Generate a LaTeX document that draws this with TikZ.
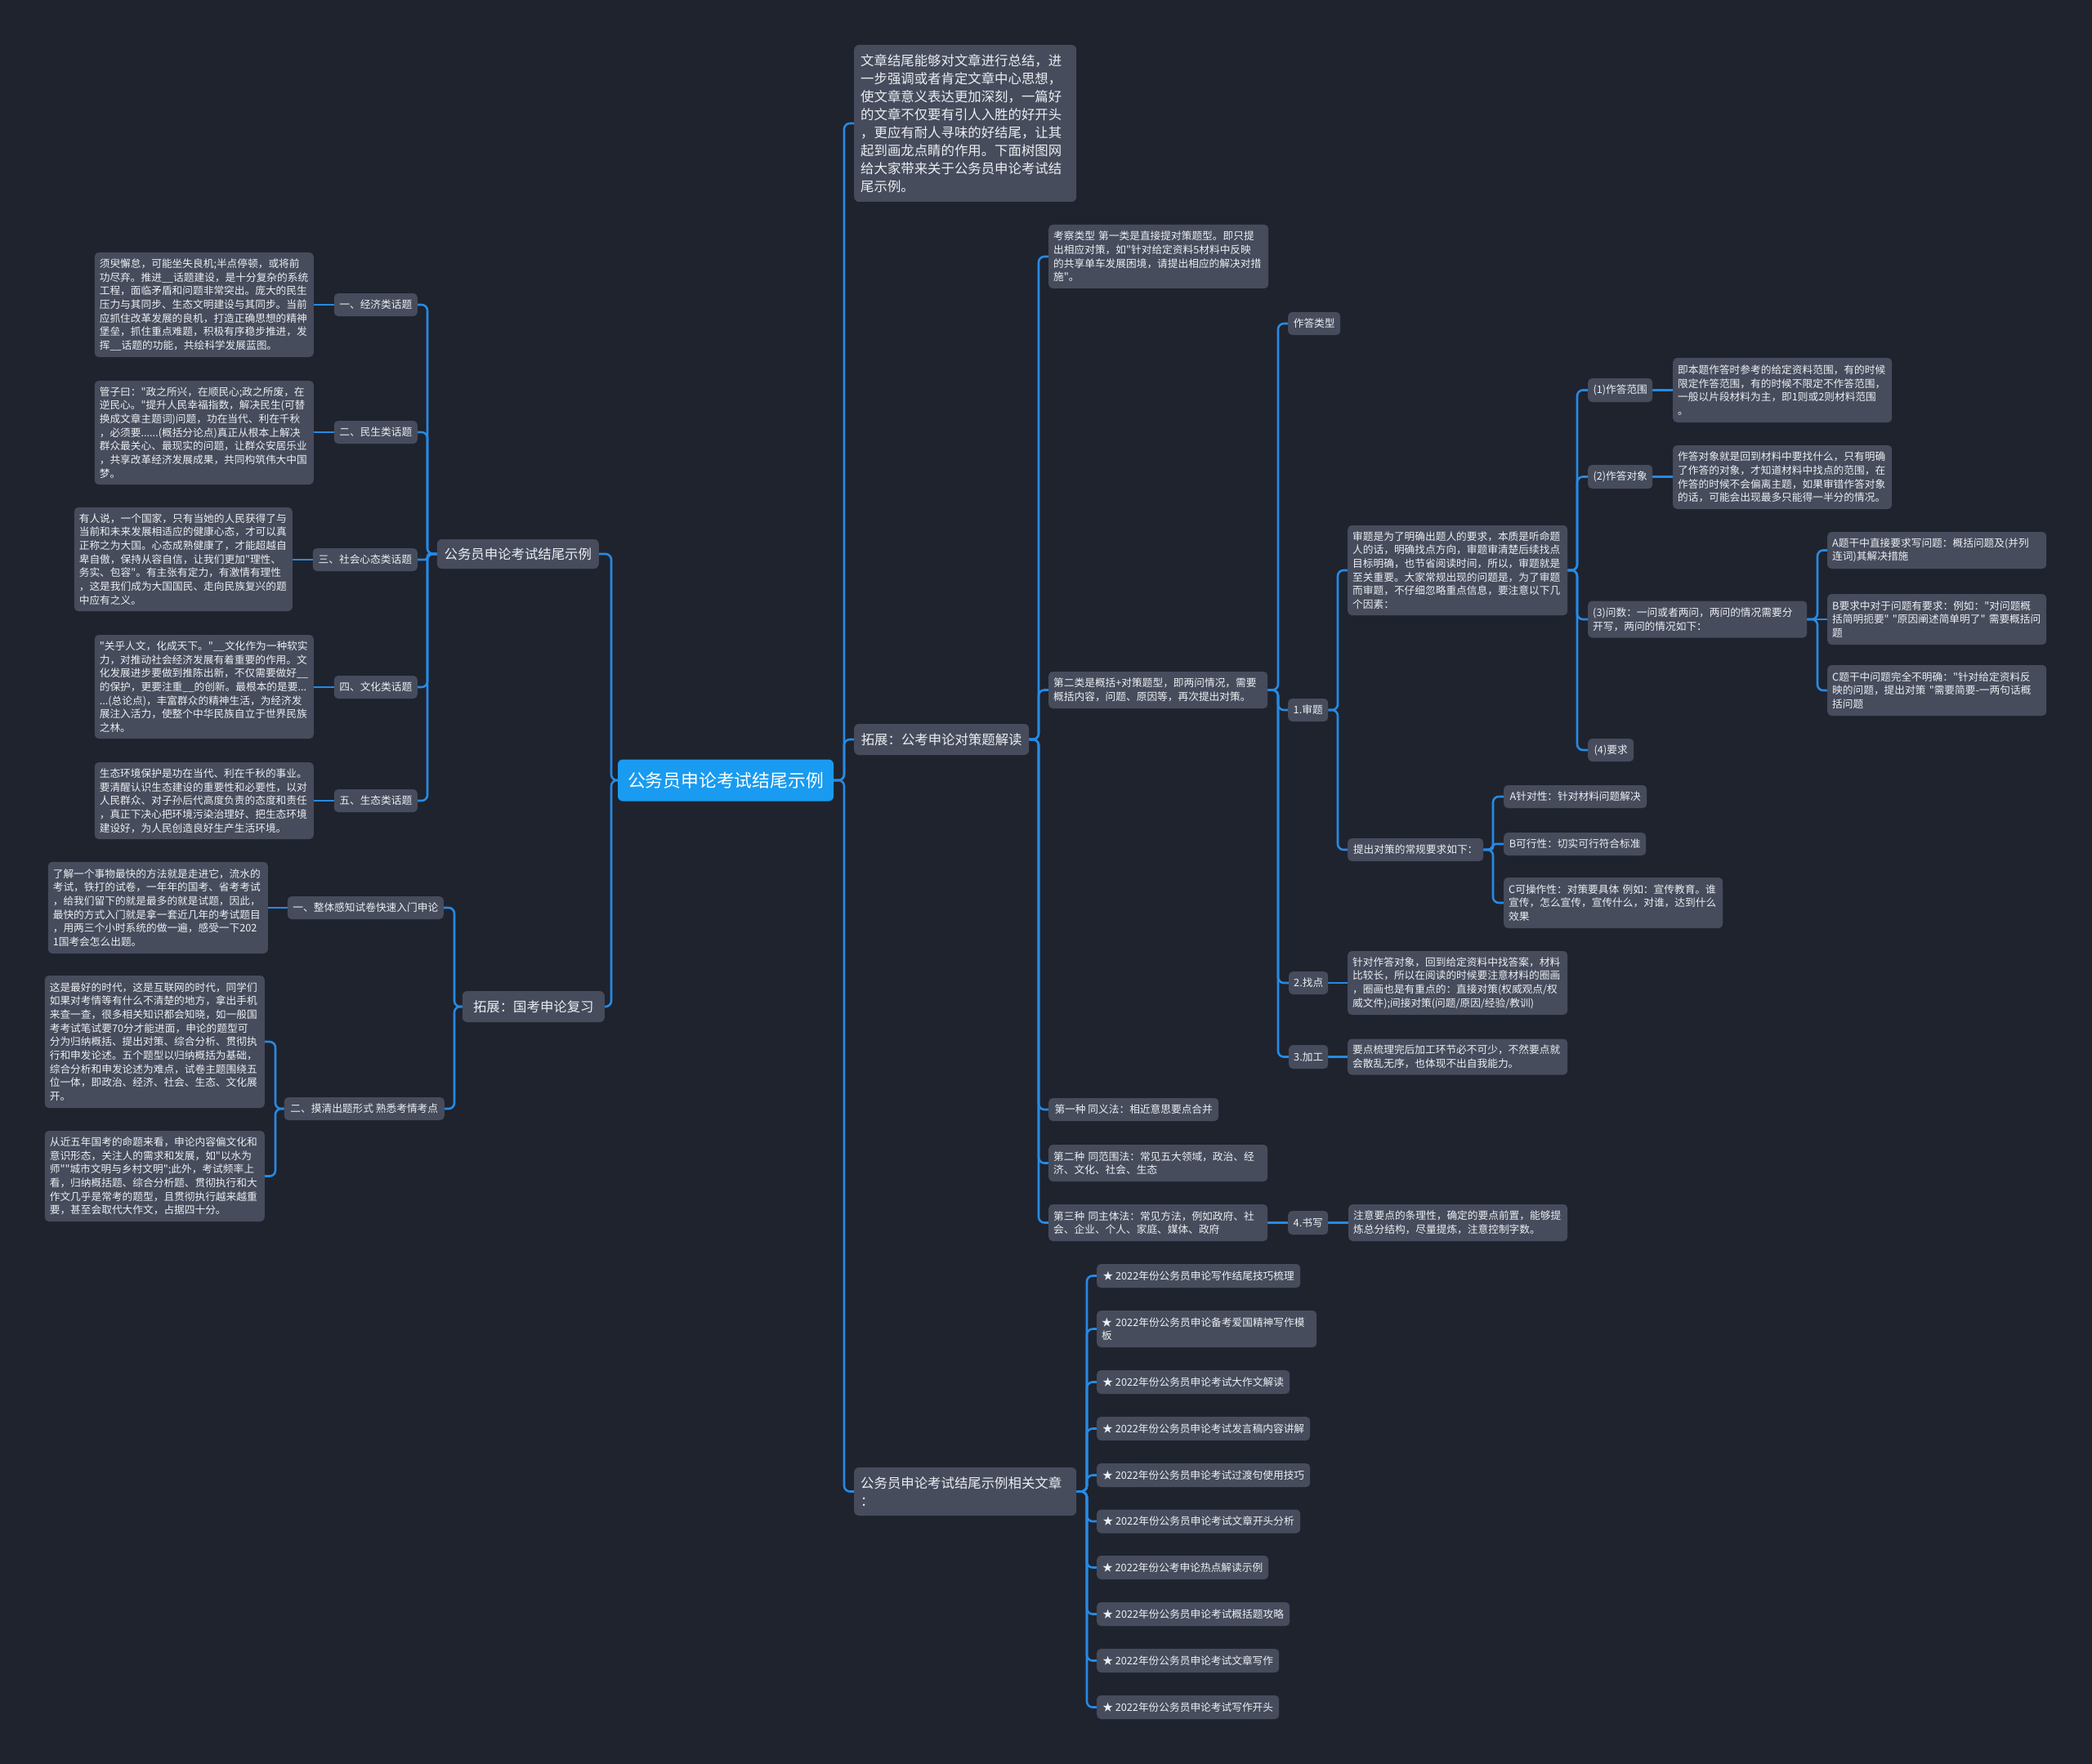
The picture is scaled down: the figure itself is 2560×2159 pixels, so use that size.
\documentclass[tikz,border=0pt]{standalone}
\usepackage{fontspec}
\newfontfamily\cjk{Noto Sans CJK SC}
\usetikzlibrary{calc}
\definecolor{bgc}{RGB}{31,35,46}
\definecolor{nodefill}{RGB}{70,76,92}
\definecolor{linec}{RGB}{38,138,228}
\definecolor{rootc}{RGB}{24,155,240}
\definecolor{txt}{RGB}{236,238,242}
\newcommand\mysm{\cjk\fontsize{12.7pt}{16.67pt}\selectfont}
\newcommand\mymd{\cjk\fontsize{16.4pt}{22pt}\selectfont}
\newcommand\mylg{\cjk\fontsize{21.8pt}{26pt}\selectfont}
\newcommand\myR[3]{\draw[conn] (#1.east) -- (#1.east -| #2) |- (#3.west);}
\newcommand\myL[3]{\draw[conn] (#1.west) -- (#1.west -| #2) |- (#3.east);}
\pgfdeclarelayer{back}
\pgfdeclarelayer{conns}
\pgfsetlayers{back,conns,main}
\tikzset{
  box/.style={fill=nodefill, text=txt, rounded corners=5pt, inner xsep=6pt, inner ysep=3pt, align=left},
  sm/.style={box, font=\mysm},
  md/.style={box, font=\mymd, inner xsep=8pt, rounded corners=6pt},
  rootbox/.style={fill=rootc, text=white, font=\mylg, rounded corners=6pt, inner sep=4pt},
  conn/.style={draw=linec, line width=2.6pt, rounded corners=7pt},
}
\begin{document}
\begin{tikzpicture}[x=1pt,y=-1pt]
\begin{pgfonlayer}{back}
\fill[bgc] (0,0) rectangle (2560,2159);
\end{pgfonlayer}

% root
\node[rootbox, minimum width=264pt, minimum height=51pt] (root) at (888,955) {公务员申论考试结尾示例};

% ---------- left side ----------
\node[md, anchor=east, minimum width=198pt, minimum height=36pt] (L1) at (733,678) {公务员申论考试结尾示例};
\node[md, anchor=east, minimum width=174pt, minimum height=38pt] (L2) at (740,1232) {拓展：国考申论复习};

\node[sm, anchor=east, minimum width=102pt, minimum height=28pt] (t1) at (511,373) {一、经济类话题};
\node[sm, anchor=east, minimum width=102pt, minimum height=28pt] (t2) at (511,529) {二、民生类话题};
\node[sm, anchor=east, minimum width=128pt, minimum height=28pt] (t3) at (511,685) {三、社会心态类话题};
\node[sm, anchor=east, minimum width=102pt, minimum height=28pt] (t4) at (511,841) {四、文化类话题};
\node[sm, anchor=east, minimum width=102pt, minimum height=28pt] (t5) at (511,980) {五、生态类话题};

\node[sm, anchor=east, text width=256pt, minimum height=128pt] (x1) at (384,373) {须臾懈怠，可能坐失良机;半点停顿，或将前\\功尽弃。推进\_\_话题建设，是十分复杂的系统\\工程，面临矛盾和问题非常突出。庞大的民生\\压力与其同步、生态文明建设与其同步。当前\\应抓住改革发展的良机，打造正确思想的精神\\堡垒，抓住重点难题，积极有序稳步推进，发\\挥\_\_话题的功能，共绘科学发展蓝图。};
\node[sm, anchor=east, text width=256pt, minimum height=127pt] (x2) at (384,529.5) {管子曰："政之所兴，在顺民心;政之所废，在\\逆民心。"提升人民幸福指数，解决民生(可替\\换成文章主题词)问题，功在当代、利在千秋\\，必须要......(概括分论点)真正从根本上解决\\群众最关心、最现实的问题，让群众安居乐业\\，共享改革经济发展成果，共同构筑伟大中国\\梦。};
\node[sm, anchor=east, text width=255pt, minimum height=127pt] (x3) at (358,684.5) {有人说，一个国家，只有当她的人民获得了与\\当前和未来发展相适应的健康心态，才可以真\\正称之为大国。心态成熟健康了，才能超越自\\卑自傲，保持从容自信，让我们更加"理性、\\务实、包容"。有主张有定力，有激情有理性\\，这是我们成为大国国民、走向民族复兴的题\\中应有之义。};
\node[sm, anchor=east, text width=256pt, minimum height=127pt] (x4) at (384,840.5) {"关乎人文，化成天下。"\_\_文化作为一种软实\\力，对推动社会经济发展有着重要的作用。文\\化发展进步要做到推陈出新，不仅需要做好\_\_\\的保护，更要注重\_\_的创新。最根本的是要...\\...(总论点)，丰富群众的精神生活，为经济发\\展注入活力，使整个中华民族自立于世界民族\\之林。};
\node[sm, anchor=east, text width=256pt, minimum height=94pt] (x5) at (384,980) {生态环境保护是功在当代、利在千秋的事业。\\要清醒认识生态建设的重要性和必要性，以对\\人民群众、对子孙后代高度负责的态度和责任\\，真正下决心把环境污染治理好、把生态环境\\建设好，为人民创造良好生产生活环境。};

\node[sm, anchor=east, minimum width=191pt, minimum height=28pt] (u1) at (543,1111) {一、整体感知试卷快速入门申论};
\node[sm, anchor=east, minimum width=196pt, minimum height=28pt] (u2) at (544,1357) {二、摸清出题形式~熟悉考情考点};

\node[sm, anchor=east, text width=257pt, minimum height=112pt] (y1) at (328,1111) {了解一个事物最快的方法就是走进它，流水的\\考试，铁打的试卷，一年年的国考、省考考试\\，给我们留下的就是最多的就是试题，因此，\\最快的方式入门就是拿一套近几年的考试题目\\，用两三个小时系统的做一遍，感受一下202\\1国考会怎么出题。};
\node[sm, anchor=east, text width=257pt, minimum height=162pt] (y2) at (324,1275) {这是最好的时代，这是互联网的时代，同学们\\如果对考情等有什么不清楚的地方，拿出手机\\来查一查，很多相关知识都会知晓，如一般国\\考考试笔试要70分才能进面，申论的题型可\\分为归纳概括、提出对策、综合分析、贯彻执\\行和申发论述。五个题型以归纳概括为基础，\\综合分析和申发论述为难点，试卷主题围绕五\\位一体，即政治、经济、社会、生态、文化展\\开。};
\node[sm, anchor=east, text width=257pt, minimum height=111pt] (y3) at (324,1439.5) {从近五年国考的命题来看，申论内容偏文化和\\意识形态，关注人的需求和发展，如"以水为\\师""城市文明与乡村文明";此外，考试频率上\\看，归纳概括题、综合分析题、贯彻执行和大\\作文几乎是常考的题型，且贯彻执行越来越重\\要，甚至会取代大作文，占据四十分。};

% ---------- right side ----------
\node[md, anchor=west, text width=256pt, minimum height=192pt] (intro) at (1045,151) {文章结尾能够对文章进行总结，进\\一步强调或者肯定文章中心思想，\\使文章意义表达更加深刻，一篇好\\的文章不仅要有引人入胜的好开头\\，更应有耐人寻味的好结尾，让其\\起到画龙点睛的作用。下面树图网\\给大家带来关于公务员申论考试结\\尾示例。};
\node[md, anchor=west, minimum width=214pt, minimum height=38pt] (R2) at (1045,905) {拓展：公考申论对策题解读};
\node[md, anchor=west, text width=256pt, minimum height=59pt] (R3) at (1045,1825.5) {公务员申论考试结尾示例相关文章\\：};

\node[sm, anchor=west, text width=257pt, minimum height=78pt] (k1) at (1283,314) {考察类型~第一类是直接提对策题型。即只提\\出相应对策，如"针对给定资料5材料中反映\\的共享单车发展困境，请提出相应的解决对措\\施"。};
\node[sm, anchor=west, text width=256pt, minimum height=45pt] (k2) at (1283,844.5) {第二类是概括+对策题型，即两问情况，需要\\概括内容，问题、原因等，再次提出对策。};
\node[sm, anchor=west, minimum width=208pt, minimum height=28pt] (k3) at (1283,1358) {第一种~同义法：相近意思要点合并};
\node[sm, anchor=west, text width=256pt, minimum height=45pt] (k4) at (1283,1423.5) {第二种~同范围法：常见五大领域，政治、经\\济、文化、社会、生态};
\node[sm, anchor=west, text width=256pt, minimum height=45pt] (k5) at (1283,1496.5) {第三种~同主体法：常见方法，例如政府、社\\会、企业、个人、家庭、媒体、政府};

\node[sm, anchor=west, minimum width=64pt, minimum height=28pt] (s0) at (1576,396) {作答类型};
\node[sm, anchor=west, minimum width=49pt, minimum height=28pt] (s1) at (1576,869) {1.审题};
\node[sm, anchor=west, minimum width=48pt, minimum height=28pt] (s2) at (1577,1203) {2.找点};
\node[sm, anchor=west, minimum width=48pt, minimum height=29pt] (s3) at (1577,1293.5) {3.加工};
\node[sm, anchor=west, minimum width=49pt, minimum height=29pt] (s4) at (1576,1496.5) {4.书写};

\node[sm, anchor=west, text width=257pt, minimum height=110pt] (sz) at (1649,698) {审题是为了明确出题人的要求，本质是听命题\\人的话，明确找点方向，审题审清楚后续找点\\目标明确，也节省阅读时间，所以，审题就是\\至关重要。大家常规出现的问题是，为了审题\\而审题，不仔细忽略重点信息，要注意以下几\\个因素：};
\node[sm, anchor=west, minimum width=166pt, minimum height=28pt] (tc) at (1649,1040) {提出对策的常规要求如下：};

\node[sm, anchor=west, minimum width=79pt, minimum height=29pt] (a1) at (1943,477.5) {(1)作答范围};
\node[sm, anchor=west, minimum width=79pt, minimum height=29pt] (a2) at (1943,583.5) {(2)作答对象};
\node[sm, anchor=west, text width=256pt, minimum height=45pt] (a3) at (1943,758) {(3)问数：一问或者两问，两问的情况需要分\\开写，两问的情况如下：};
\node[sm, anchor=west, minimum width=56pt, minimum height=28pt] (a4) at (1943,918) {(4)要求};

\node[sm, anchor=west, text width=256pt, minimum height=79pt] (b1) at (2047,477.5) {即本题作答时参考的给定资料范围，有的时候\\限定作答范围，有的时候不限定不作答范围，\\一般以片段材料为主，即1则或2则材料范围\\。};
\node[sm, anchor=west, text width=256pt, minimum height=78pt] (b2) at (2047,584) {作答对象就是回到材料中要找什么，只有明确\\了作答的对象，才知道材料中找点的范围，在\\作答的时候不会偏离主题，如果审错作答对象\\的话，可能会出现最多只能得一半分的情况。};

\node[sm, anchor=west, text width=256pt, minimum height=45pt] (cA) at (2236,673.5) {A题干中直接要求写问题：概括问题及(并列\\连词)其解决措施};
\node[sm, anchor=west, text width=256pt, minimum height=62pt] (cB) at (2236,758) {B要求中对于问题有要求：例如："对问题概\\括简明扼要"~"原因阐述简单明了"~需要概括问\\题};
\node[sm, anchor=west, text width=256pt, minimum height=62pt] (cC) at (2236,845) {C题干中问题完全不明确："针对给定资料反\\映的问题，提出对策~"需要简要-一两句话概\\括问题};

\node[sm, anchor=west, minimum width=175pt, minimum height=28pt] (pA) at (1840,975) {A针对性：针对材料问题解决};
\node[sm, anchor=west, minimum width=174pt, minimum height=28pt] (pB) at (1840,1033) {B可行性：切实可行符合标准};
\node[sm, anchor=west, text width=256pt, minimum height=62pt] (pC) at (1840,1105) {C可操作性：对策要具体~例如：宣传教育。谁\\宣传，怎么宣传，宣传什么，对谁，达到什么\\效果};

\node[sm, anchor=west, text width=257pt, minimum height=78pt] (zt) at (1649,1203) {针对作答对象，回到给定资料中找答案，材料\\比较长，所以在阅读的时候要注意材料的圈画\\，圈画也是有重点的：直接对策(权威观点/权\\威文件);间接对策(问题/原因/经验/教训)};
\node[sm, anchor=west, text width=257pt, minimum height=44pt] (jt) at (1649,1293.5) {要点梳理完后加工环节必不可少，不然要点就\\会散乱无序，也体现不出自我能力。};
\node[sm, anchor=west, text width=256pt, minimum height=45pt] (st) at (1650,1496.5) {注意要点的条理性，确定的要点前置，能够提\\炼总分结构，尽量提炼，注意控制字数。};

\node[sm, anchor=west, minimum width=249pt, minimum height=29pt] (li1) at (1342,1561.5) {★~2022年份公务员申论写作结尾技巧梳理};
\node[sm, anchor=west, text width=257pt, minimum height=45pt] (li2) at (1342,1626.5) {★~2022年份公务员申论备考爱国精神写作模\\板};
\node[sm, anchor=west, minimum width=236pt, minimum height=29pt] (li3) at (1342,1691.5) {★~2022年份公务员申论考试大作文解读};
\node[sm, anchor=west, minimum width=261pt, minimum height=29pt] (li4) at (1342,1748.5) {★~2022年份公务员申论考试发言稿内容讲解};
\node[sm, anchor=west, minimum width=261pt, minimum height=29pt] (li5) at (1342,1805.5) {★~2022年份公务员申论考试过渡句使用技巧};
\node[sm, anchor=west, minimum width=249pt, minimum height=29pt] (li6) at (1342,1862) {★~2022年份公务员申论考试文章开头分析};
\node[sm, anchor=west, minimum width=210pt, minimum height=29pt] (li7) at (1342,1918.5) {★~2022年份公考申论热点解读示例};
\node[sm, anchor=west, minimum width=236pt, minimum height=29pt] (li8) at (1342,1975.5) {★~2022年份公务员申论考试概括题攻略};
\node[sm, anchor=west, minimum width=223pt, minimum height=29pt] (li9) at (1342,2032.5) {★~2022年份公务员申论考试文章写作};
\node[sm, anchor=west, minimum width=223pt, minimum height=29pt] (li10) at (1342,2089.5) {★~2022年份公务员申论考试写作开头};

% trunk x positions
\coordinate (TL) at (748,0);
\coordinate (TL1) at (523,0);
\coordinate (TL2) at (556,0);
\coordinate (TU2) at (337,0);
\coordinate (TR) at (1033,0);
\coordinate (TR2) at (1271,0);
\coordinate (TK2) at (1564,0);
\coordinate (TS1) at (1637,0);
\coordinate (TSZ) at (1930,0);
\coordinate (TA3) at (2224,0);
\coordinate (TTC) at (1827,0);
\coordinate (TR3) at (1330,0);

\begin{pgfonlayer}{conns}
% left
\myL{root}{TL}{L1}
\myL{root}{TL}{L2}
\myL{L1}{TL1}{t1}
\myL{L1}{TL1}{t2}
\draw[conn, rounded corners=3pt] (L1.west) -- (L1.west -| TL1) |- (t3.east);
\myL{L1}{TL1}{t4}
\myL{L1}{TL1}{t5}
\foreach \a/\b in {t1/x1,t2/x2,t3/x3,t4/x4,t5/x5,u1/y1}
  {\draw[conn] (\a.west) -- (\a.west -| \b.east);}
\myL{L2}{TL2}{u1}
\myL{L2}{TL2}{u2}
\myL{u2}{TU2}{y2}
\myL{u2}{TU2}{y3}
% right
\myR{root}{TR}{intro}
\myR{root}{TR}{R2}
\myR{root}{TR}{R3}
\myR{R2}{TR2}{k1}
\myR{R2}{TR2}{k2}
\myR{R2}{TR2}{k3}
\myR{R2}{TR2}{k4}
\myR{R2}{TR2}{k5}
\myR{k2}{TK2}{s0}
\myR{k2}{TK2}{s1}
\myR{k2}{TK2}{s2}
\myR{k2}{TK2}{s3}
\myR{s1}{TS1}{sz}
\myR{s1}{TS1}{tc}
\myR{sz}{TSZ}{a1}
\myR{sz}{TSZ}{a2}
\myR{sz}{TSZ}{a3}
\myR{sz}{TSZ}{a4}
\myR{a3}{TA3}{cA}
\myR{a3}{TA3}{cC}
\myR{tc}{TTC}{pA}
\draw[conn, rounded corners=3pt] (tc.east) -- (tc.east -| TTC) |- (pB.west);
\myR{tc}{TTC}{pC}
\foreach \a/\b in {a1/b1,a2/b2,a3/cB,s2/zt,s3/jt,k5/s4,s4/st}
  {\draw[conn] (\a.east) -- (\a.east -| \b.west);}
\foreach \i in {1,...,10}
  {\myR{R3}{TR3}{li\i}}
\end{pgfonlayer}
\end{tikzpicture}
\end{document}
